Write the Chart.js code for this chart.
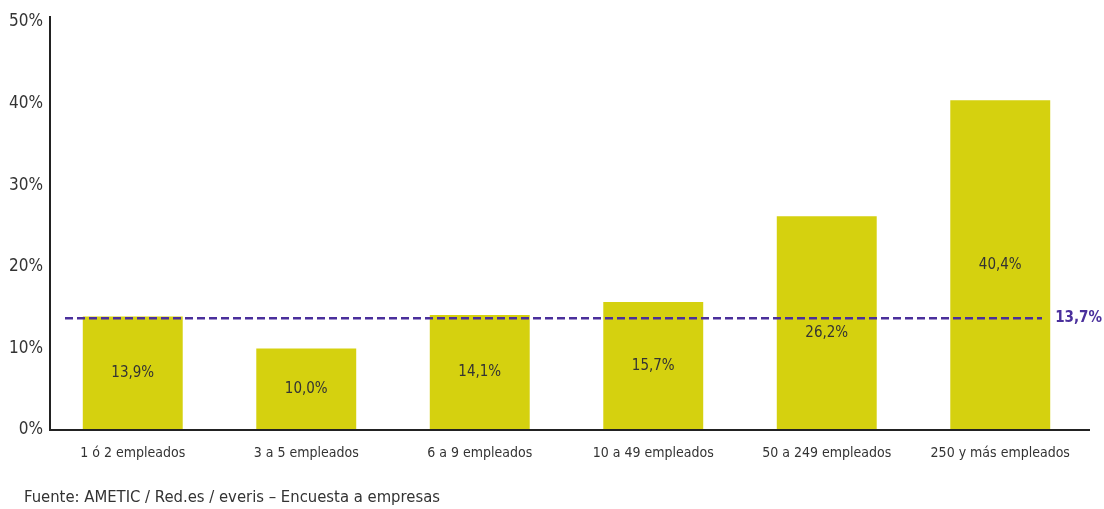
<!DOCTYPE html>
<html lang="es">
<head>
<meta charset="utf-8">
<script src="https://cdn.jsdelivr.net/npm/chart.js@4.4.1/dist/chart.umd.min.js"></script>
<style>
    html, body { margin: 0; padding: 0; background: #ffffff; }
    #wrap { position: relative; width: 1104px; height: 509px; }
</style>
</head>
<body>
<div id="wrap"><canvas id="empleadosChart" width="1104" height="509"></canvas></div>
<script>
// Datos: porcentaje por tamaño de empresa
const categorias = ['1 ó 2 empleados', '3 a 5 empleados', '6 a 9 empleados', '10 a 49 empleados', '50 a 249 empleados', '250 y más empleados'];
const valores = [13.9, 10.0, 14.1, 15.7, 26.2, 40.4];
const media = 13.7;
const ticksY = [0, 10, 20, 30, 40, 50];
const fuente = 'Fuente: AMETIC / Red.es / everis – Encuesta a empresas';

const FUENTE = '"Liberation Sans Narrow", "DejaVu Sans Condensed", "Liberation Sans", sans-serif';
const fmt = v => v.toFixed(1).replace('.', ',') + '%';

// Ejes, línea de media, etiquetas de valor y nota de fuente
const extras = {
    id: 'extras',
    afterDatasetsDraw(chart) {
        const { ctx, chartArea: a, scales: { x, y } } = chart;
        const ym = y.getPixelForValue(media);
        ctx.save();

        // Ejes (ligeramente desplazados respecto al área de barras)
        const ejeX = a.left + 4;
        ctx.strokeStyle = '#222222';
        ctx.lineWidth = 2;
        ctx.beginPath();
        ctx.moveTo(ejeX, a.top - 6);
        ctx.lineTo(ejeX, a.bottom);
        ctx.lineTo(a.right + 3, a.bottom);
        ctx.stroke();

        // Etiquetas dentro de las barras; si chocan con la media, van debajo
        ctx.fillStyle = '#333333';
        ctx.font = '15px ' + FUENTE;
        ctx.textAlign = 'center';
        ctx.textBaseline = 'middle';
        valores.forEach((v, i) => {
            const px = x.getPixelForValue(i);
            let py = (y.getPixelForValue(v) + y.getPixelForValue(0)) / 2;
            if (Math.abs(py - ym) < 9) py = ym + 15;
            ctx.fillText(fmt(v), px, py);
        });

        // Media general
        ctx.strokeStyle = '#4a2f9c';
        ctx.lineWidth = 2.5;
        ctx.setLineDash([8, 4]);
        ctx.beginPath();
        ctx.moveTo(a.left + 19, ym);
        ctx.lineTo(a.right - 45, ym);
        ctx.stroke();
        ctx.setLineDash([]);
        ctx.fillStyle = '#4a2f9c';
        ctx.font = 'bold 15px ' + FUENTE;
        ctx.textAlign = 'right';
        ctx.fillText(fmt(media), a.right + 15, ym);

        // Fuente
        ctx.fillStyle = '#333333';
        ctx.font = '16.5px ' + FUENTE;
        ctx.textAlign = 'left';
        ctx.fillText(fuente, 24, 498);
        ctx.restore();
    }
};

const ctx = document.getElementById('empleadosChart').getContext('2d');
new Chart(ctx, {
    type: 'bar',
    data: {
        labels: categorias,
        datasets: [{
            data: valores,
            backgroundColor: '#d5d10f',
            borderWidth: 0,
            barPercentage: 0.576,
            categoryPercentage: 1
        }]
    },
    options: {
        responsive: false,
        animation: false,
        layout: { padding: { top: 22, right: 17, bottom: 34, left: 0 } },
        scales: {
            x: {
                grid: { display: false, drawTicks: false },
                border: { display: false },
                ticks: { color: '#333333', font: { family: FUENTE, size: 14 }, padding: 15, maxRotation: 0 },
                afterFit: s => { s.height = 45; }
            },
            y: {
                min: 0,
                max: 50,
                afterBuildTicks: s => { s.ticks = ticksY.map(v => ({ value: v })); },
                grid: { display: false, drawTicks: false },
                border: { display: false },
                ticks: { color: '#333333', font: { family: FUENTE, size: 17 }, padding: 3, callback: v => v + '%' },
                afterFit: s => { s.width = 46; }
            }
        },
        plugins: {
            legend: { display: false },
            tooltip: { enabled: false }
        }
    },
    plugins: [extras]
});
</script>
</body>
</html>
